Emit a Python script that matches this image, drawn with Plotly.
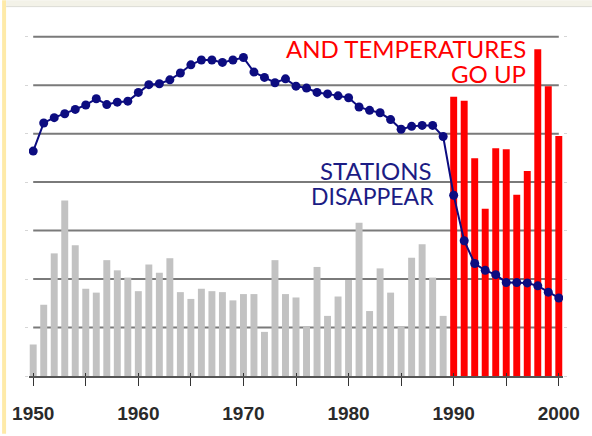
import plotly.graph_objects as go

# ---- data ----
years = list(range(1950, 2001))

temperature = [
    0.65, 1.47, 2.53, 3.62, 2.70, 1.80, 1.72, 2.39, 2.18, 2.03,   # 1950-1959
    1.75, 2.30, 2.13, 2.43, 1.73, 1.59, 1.80, 1.75, 1.73, 1.56,   # 1960-1969
    1.69, 1.69, 0.91, 2.39, 1.69, 1.62, 1.02, 2.25, 1.24, 1.64,   # 1970-1979
    1.98, 3.16, 1.34, 2.22, 1.72, 1.02, 2.44, 2.72, 2.03, 1.24,   # 1980-1989
    5.76, 5.68, 4.49, 3.45, 4.70, 4.68, 3.74, 4.23, 6.74, 5.98,   # 1990-1999
    4.95,                                                         # 2000
]

stations = [
    4.64, 5.22, 5.33, 5.41, 5.50, 5.59, 5.72, 5.60, 5.65, 5.67,
    5.85, 6.01, 6.03, 6.11, 6.25, 6.42, 6.52, 6.52, 6.47, 6.52,
    6.57, 6.27, 6.16, 6.05, 6.13, 5.98, 5.94, 5.85, 5.82, 5.78,
    5.74, 5.55, 5.48, 5.43, 5.29, 5.09, 5.15, 5.17, 5.17, 4.94,
    3.73, 2.79, 2.32, 2.18, 2.09, 1.93, 1.93, 1.92, 1.86, 1.73,
    1.61,
]

split_year = 1990
tick_years = list(range(1950, 2001, 5))
tick_text = [str(y) if y % 10 == 0 else "" for y in tick_years]
grid_levels = [1, 2, 3, 4, 5, 6, 7]

# ---- styling ----
W, H = 592, 436
M = dict(l=27, r=29, t=27, b=58)
GRAY_BAR = "#c2c2c2"
RED = "#ff0000"
NAVY = "#0c0c80"
TEXT_NAVY = "#1c1c84"

before = [i for i, y in enumerate(years) if y < split_year]
after = [i for i, y in enumerate(years) if y >= split_year]

fig = go.Figure()

fig.add_trace(go.Bar(
    x=[years[i] for i in before], y=[temperature[i] for i in before],
    marker=dict(color=GRAY_BAR, line=dict(width=0)), width=0.66,
    hoverinfo="skip",
))
fig.add_trace(go.Bar(
    x=[years[i] for i in after], y=[temperature[i] for i in after],
    marker=dict(color=RED, line=dict(width=0)), width=0.66,
    hoverinfo="skip",
))
fig.add_trace(go.Scatter(
    x=years, y=stations, mode="lines+markers",
    line=dict(color=NAVY, width=2),
    marker=dict(color=NAVY, size=9),
    hoverinfo="skip",
))
# overlay axis only used for the short tick stubs above the baseline
fig.add_trace(go.Scatter(x=[years[0]], y=[None], xaxis="x2", showlegend=False,
                         hoverinfo="skip"))

# horizontal grid lines (behind the bars)
for g in grid_levels:
    fig.add_shape(type="line", xref="x", yref="y", x0=years[0], x1=years[-1],
                  y0=g, y1=g, line=dict(color="#7a7a7a", width=2), layer="below")

# figure border decorations (pale yellow strip at left, light band at top)
pw = W - M["l"] - M["r"]
ph = H - M["t"] - M["b"]
fig.add_shape(type="rect", xref="paper", yref="paper",
              x0=(0 - M["l"]) / pw, x1=(4 - M["l"]) / pw,
              y0=-M["b"] / ph, y1=(H - M["b"]) / ph,
              fillcolor="#feeaa8", line=dict(width=0), layer="below")
fig.add_shape(type="rect", xref="paper", yref="paper",
              x0=(4 - M["l"]) / pw, x1=(W - M["l"]) / pw,
              y0=(H - M["b"] - 6) / ph, y1=(H - M["b"]) / ph,
              fillcolor="#f3f2e8", line=dict(width=0), layer="below")
fig.add_shape(type="line", xref="paper", yref="paper",
              x0=(4 - M["l"]) / pw, x1=(W - M["l"]) / pw,
              y0=(H - M["b"] - 6.5) / ph, y1=(H - M["b"] - 6.5) / ph,
              line=dict(color="#dcdcd4", width=1), layer="below")

ann_font = "Lato, 'Open Sans', sans-serif"
fig.add_annotation(text="AND TEMPERATURES", x=1997.1, y=6.76, xref="x", yref="y",
                   xanchor="right", yanchor="middle", showarrow=False,
                   font=dict(family=ann_font, size=24, color=RED))
fig.add_annotation(text="GO UP", x=1997.1, y=6.25, xref="x", yref="y",
                   xanchor="right", yanchor="middle", showarrow=False,
                   font=dict(family=ann_font, size=24, color=RED))
fig.add_annotation(text="STATIONS", x=1988.15, y=4.24, xref="x", yref="y",
                   xanchor="right", yanchor="middle", showarrow=False,
                   font=dict(family=ann_font, size=24, color=TEXT_NAVY))
fig.add_annotation(text="DISAPPEAR", x=1988.3, y=3.72, xref="x", yref="y",
                   xanchor="right", yanchor="middle", showarrow=False,
                   font=dict(family=ann_font, size=23, color=TEXT_NAVY))

fig.update_layout(
    width=W, height=H, margin=M,
    paper_bgcolor="white", plot_bgcolor="white",
    showlegend=False, barmode="overlay",
    xaxis=dict(range=[1949.6, 2000.4], tickmode="array", tickvals=tick_years,
               ticktext=tick_text, ticks="outside", ticklen=8, tickwidth=1.3,
               tickcolor="#333333", showline=True, linecolor="#555555", linewidth=1.5,
               showgrid=False, zeroline=False, fixedrange=True,
               tickfont=dict(family="Liberation Sans, Arial, sans-serif", size=19,
                             color="#2a2a2a", weight="bold"),
               ticklabelstandoff=11),
    xaxis2=dict(range=[1949.6, 2000.4], overlaying="x", anchor="y", side="bottom",
                tickmode="array", tickvals=tick_years, ticks="inside", ticklen=3,
                tickwidth=1.3, tickcolor="#333333", showticklabels=False,
                showgrid=False, zeroline=False, showline=False),
    yaxis=dict(range=[0, 7.2], tickmode="array", tickvals=[0] + grid_levels,
               ticks="outside", ticklen=3, tickcolor="#d6d6d6", mirror="ticks",
               showticklabels=False, showgrid=False, zeroline=False, showline=False),
)

fig.write_html("out.html", config={"displayModeBar": False},
               post_script="document.body.style.margin='0';")
